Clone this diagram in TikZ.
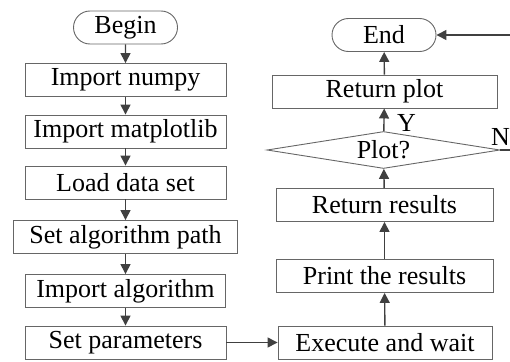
\documentclass[tikz,border=0pt]{standalone}
\usepackage{fontspec}
\setmainfont{Liberation Serif}
\usetikzlibrary{shapes.geometric,shapes.misc,arrows.meta}
\begin{document}
\begin{tikzpicture}[x=1pt,y=-1pt,
  every node/.style={font=\fontsize{26}{26}\selectfont, inner sep=0pt},
  box/.style={draw=black!60, line width=0.9pt, rectangle, minimum height=33pt},
  term/.style={draw=black!60, line width=0.9pt, rounded rectangle, minimum width=104pt, minimum height=33pt},
  dec/.style={draw=black!60, line width=0.9pt, diamond, aspect=6.3, minimum width=233pt, minimum height=37pt},
  link/.style={draw=black!75, line width=1.4pt, -{Triangle[length=10pt,width=10pt]}},
  lbl/.style={font=\fontsize{26}{26}\selectfont}]
\useasboundingbox (0,0) rectangle (510,361);
\clip (0,0) rectangle (510,361);
% left column
\node[term] (begin) at (125.5,27.5) {Begin};
\node[box, minimum width=201pt] (numpy) at (125.5,80) {Import numpy};
\node[box, minimum width=201pt] (mpl) at (125.5,131.5) {Import matplotlib};
\node[box, minimum width=201pt] (load) at (125.5,182.5) {Load data set};
\node[box, minimum width=224pt] (path) at (125.5,237) {Set algorithm path};
\node[box, minimum width=200pt] (alg) at (125.5,291) {Import algorithm};
\node[box, minimum width=201pt] (params) at (125.5,342.5) {Set parameters};
% right column
\node[box, minimum width=214pt] (exec) at (385,342.5) {Execute and wait};
\node[box, minimum width=217pt] (print) at (384.5,276) {Print the results};
\node[box, minimum width=217pt] (ret) at (384.5,205) {Return results};
\node[dec] (plot) at (383.5,150) {Plot?};
\node[box, minimum width=225pt] (rplot) at (384.5,91.5) {Return plot};
\node[term] (end) at (384,35) {End};
\coordinate (loop) at (530,150);
% connectors
\draw[link] (begin) -- (numpy);
\draw[link] (numpy) -- (mpl);
\draw[link] (mpl) -- (load);
\draw[link] (load) -- (path);
\draw[link] (path) -- (alg);
\draw[link] (alg) -- (params);
\draw[link] (params) -- (exec);
\draw[link] (exec) -- (print);
\draw[link] (print) -- (ret);
\draw[link] (ret) -- (plot);
\draw[link] (plot) -- (rplot);
\node[lbl, anchor=south west] (ylab) at (397,132) {Y};
\draw[link] (rplot) -- (end);
\draw[link] (plot.east) -- (loop) |- (end);
\node[lbl, anchor=south west] (nlab) at (491,146) {N};
\end{tikzpicture}
\end{document}
